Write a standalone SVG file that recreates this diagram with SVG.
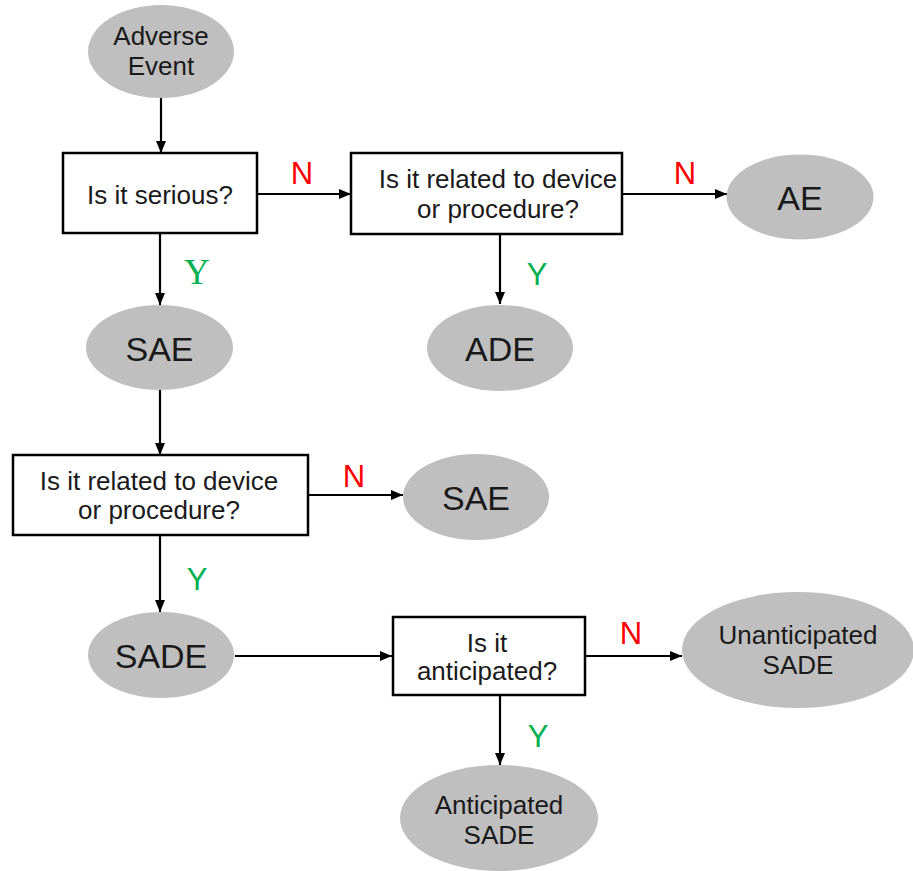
<svg xmlns="http://www.w3.org/2000/svg" width="913" height="871" viewBox="0 0 913 871">
<style>
.bg{fill:#ffffff}
.box{fill:#ffffff;stroke:#000000;stroke-width:2.5}
.ell{fill:#bfbfbf;stroke:none}
.t{font-family:"Liberation Sans",Arial,sans-serif;font-size:26px;fill:#1a1a1a;text-anchor:middle}
.big{font-size:34px}
.n{font-family:"Liberation Sans",Arial,sans-serif;font-size:31px;fill:#ff0000;text-anchor:middle}
.y{font-family:"Liberation Sans",Arial,sans-serif;font-size:31px;fill:#00b050;text-anchor:middle}
.ys{font-family:"Liberation Serif","Times New Roman",serif;font-size:35px;fill:#00b050;text-anchor:middle}
.c{stroke:#000000;stroke-width:2.2;fill:none;marker-end:url(#ah)}
</style>
<defs>
<marker id="ah" viewBox="0 0 12 10" refX="12" refY="5" markerWidth="12" markerHeight="10" markerUnits="userSpaceOnUse" orient="auto">
<path d="M0,0 L12,5 L0,10 z" fill="#000000"/>
</marker>
</defs>
<rect class="bg" x="0" y="0" width="913" height="871"/>
<g id="connectors">
<line class="c" x1="161" y1="98" x2="161" y2="153"/>
<line class="c" x1="257" y1="194" x2="351" y2="194"/>
<line class="c" x1="622" y1="194" x2="727" y2="194"/>
<line class="c" x1="500" y1="234" x2="500" y2="304"/>
<line class="c" x1="160" y1="233" x2="160" y2="305"/>
<line class="c" x1="160" y1="390" x2="160" y2="455"/>
<line class="c" x1="308" y1="495" x2="403" y2="495"/>
<line class="c" x1="160" y1="535" x2="160" y2="612"/>
<line class="c" x1="235" y1="656" x2="392" y2="656"/>
<line class="c" x1="585" y1="656" x2="682" y2="656"/>
<line class="c" x1="500" y1="695" x2="500" y2="765"/>
<text class="n" x="302" y="184">N</text>
<text class="ys" x="197" y="284">Y</text>
<text class="n" x="685" y="184">N</text>
<text class="y" x="537" y="285">Y</text>
<text class="n" x="354" y="487">N</text>
<text class="y" x="197" y="590">Y</text>
<text class="n" x="631" y="644">N</text>
<text class="y" x="538" y="747">Y</text>
</g>
<g id="adverse-event">
<ellipse class="ell" cx="161" cy="51.5" rx="73" ry="46.5"/>
<text class="t" x="161" y="45">Adverse</text>
<text class="t" x="161" y="75">Event</text>
</g>
<g id="q-serious">
<rect class="box" x="63" y="153" width="194" height="80"/>
<text class="t" x="160" y="204">Is it serious?</text>
</g>
<g id="q-related-1">
<rect class="box" x="351" y="153" width="271" height="81"/>
<text class="t" x="498" y="188">Is it related to device</text>
<text class="t" x="498" y="218">or procedure?</text>
</g>
<g id="ae">
<ellipse class="ell" cx="800" cy="197" rx="73.5" ry="42.5"/>
<text class="t big" x="800" y="210">AE</text>
</g>
<g id="ade">
<ellipse class="ell" cx="500" cy="348" rx="73" ry="43"/>
<text class="t big" x="500" y="361">ADE</text>
</g>
<g id="sae-1">
<ellipse class="ell" cx="159.5" cy="347.5" rx="73.5" ry="42.5"/>
<text class="t big" x="159.5" y="361">SAE</text>
</g>
<g id="q-related-2">
<rect class="box" x="13" y="455" width="295" height="80"/>
<text class="t" x="159" y="490">Is it related to device</text>
<text class="t" x="159" y="519">or procedure?</text>
</g>
<g id="sae-2">
<ellipse class="ell" cx="476" cy="497" rx="73" ry="43"/>
<text class="t big" x="476" y="510">SAE</text>
</g>
<g id="sade">
<ellipse class="ell" cx="161" cy="655" rx="73" ry="43"/>
<text class="t big" x="161" y="668">SADE</text>
</g>
<g id="q-anticipated">
<rect class="box" x="393" y="617" width="192" height="78"/>
<text class="t" x="487" y="652">Is it</text>
<text class="t" x="487" y="680">anticipated?</text>
</g>
<g id="unanticipated-sade">
<ellipse class="ell" cx="798" cy="650" rx="116" ry="58"/>
<text class="t" x="798" y="644">Unanticipated</text>
<text class="t" x="798" y="674">SADE</text>
</g>
<g id="anticipated-sade">
<ellipse class="ell" cx="499" cy="818" rx="99" ry="53"/>
<text class="t" x="499" y="814">Anticipated</text>
<text class="t" x="499" y="844">SADE</text>
</g>
</svg>
